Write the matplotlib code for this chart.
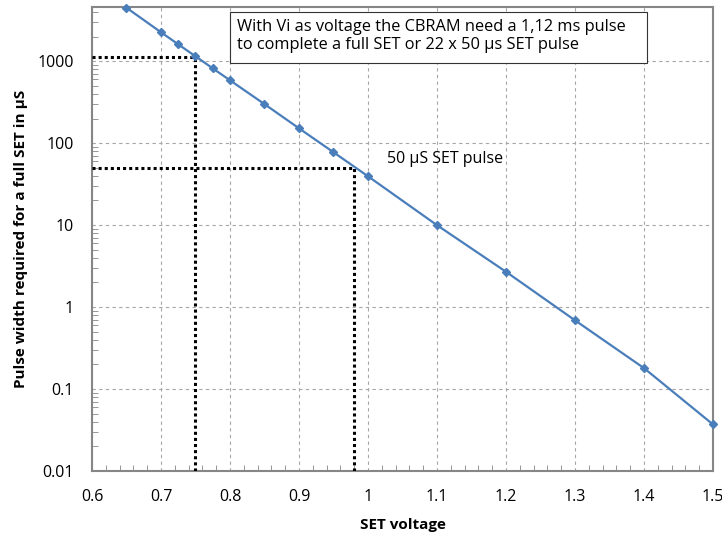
import matplotlib
matplotlib.use("Agg")
import matplotlib.pyplot as plt
from matplotlib.patches import Rectangle
from matplotlib.ticker import MultipleLocator, LogLocator, FixedLocator, FixedFormatter

plt.rcParams['font.family'] = ['Open Sans', 'DejaVu Sans']

voltage = [0.65, 0.70, 0.725, 0.75, 0.775, 0.80, 0.85, 0.90, 0.95, 1.00, 1.10, 1.20, 1.30, 1.40, 1.50]
pulse_us = [4500, 2260, 1610, 1150, 820, 586, 300, 152, 77.6, 39.5, 10.0, 2.7, 0.69, 0.18, 0.037]

vi_voltage = 0.75
vi_pulse = 1120
set_voltage = 0.98
set_pulse = 50

yticks = [0.01, 0.1, 1, 10, 100, 1000]
ytick_labels = ['0.01', '0.1', '1', '10', '100', '1000']
xticks = [0.6, 0.7, 0.8, 0.9, 1.0, 1.1, 1.2, 1.3, 1.4, 1.5]
xtick_labels = ['0.6', '0.7', '0.8', '0.9', '1', '1.1', '1.2', '1.3', '1.4', '1.5']

fig = plt.figure(figsize=(7.22, 5.36), dpi=100)
ax = fig.add_axes([0.1274, 0.1213, 0.8601, 0.8657])
ax.set_yscale('log')
ax.set_xlim(0.6, 1.5)
ax.set_ylim(0.01, 4600)

ax.grid(True, which='major', color='#a6a6a6', linestyle=(0, (3, 3)), linewidth=0.8)
ax.set_axisbelow(True)

ax.plot([vi_voltage, vi_voltage], [0.01, vi_pulse], color='black', linestyle=(0, (1, 1)), linewidth=2.2, zorder=3)
ax.plot([0.6, vi_voltage], [vi_pulse, vi_pulse], color='black', linestyle=(0, (1, 1)), linewidth=2.2, zorder=3)
ax.plot([set_voltage, set_voltage], [0.01, set_pulse], color='black', linestyle=(0, (1, 1)), linewidth=2.2, zorder=3)
ax.plot([0.6, set_voltage], [set_pulse, set_pulse], color='black', linestyle=(0, (1, 1)), linewidth=2.2, zorder=3)

ax.plot(voltage, pulse_us, color='#4a7ebb', linewidth=1.6, marker='D', markersize=4.5,
        markerfacecolor='#4a7ebb', markeredgecolor='#4a7ebb', zorder=4, clip_on=False)

ax.xaxis.set_major_locator(FixedLocator(xticks))
ax.xaxis.set_major_formatter(FixedFormatter(xtick_labels))
ax.xaxis.set_minor_locator(MultipleLocator(0.02))
ax.yaxis.set_major_locator(FixedLocator(yticks))
ax.yaxis.set_major_formatter(FixedFormatter(ytick_labels))
ax.yaxis.set_minor_locator(LogLocator(base=10, subs=range(2, 10), numticks=20))

ax.tick_params(which='major', direction='in', length=0, labelsize=11.5, colors='black')
ax.tick_params(which='minor', direction='in', length=4, color='#868686')
ax.tick_params(axis='y', which='major', pad=13)
ax.tick_params(axis='x', which='major', pad=13)

for s in ax.spines.values():
    s.set_color('#868686')
    s.set_linewidth(1.5)

ax.set_xlabel('SET voltage', fontsize=11, fontweight='bold', labelpad=9)
ax.set_ylabel('Pulse width required for a full SET in µS', fontsize=11, fontweight='bold', labelpad=7)

rect = Rectangle((0.222, 0.879), 0.672, 0.110, transform=ax.transAxes,
                 facecolor='white', edgecolor='#333333', linewidth=0.8, zorder=5)
ax.add_patch(rect)
ax.text(0.2335, 0.9375, 'With Vi as voltage the CBRAM need a 1,12 ms pulse\nto complete a full SET or 22 x 50 µs SET pulse',
        transform=ax.transAxes, fontsize=11.8, va='center', ha='left', linespacing=1.2, zorder=6)

ax.text(1.0275, 65, '50 µS SET pulse', fontsize=11.5, va='center', ha='left', zorder=6)

fig.savefig('out.png', dpi=100)
